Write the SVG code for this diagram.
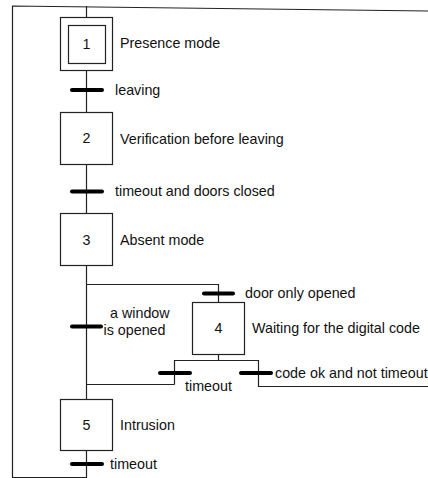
<svg xmlns="http://www.w3.org/2000/svg" width="428" height="478" viewBox="0 0 428 478">
  <style>
    .link { fill: none; stroke: #222; stroke-width: 1.2; }
    .step { fill: #fff; stroke: #222; stroke-width: 1.2; }
    .bar { stroke: #000; stroke-width: 4; stroke-linecap: round; }
    text { font-family: "Liberation Sans", Arial, Helvetica, sans-serif; font-size: 14.3px; fill: #111; }
    .num { text-anchor: middle; }
  </style>
  <rect width="428" height="478" fill="#fff"/>

  <!-- connectors -->
  <g id="connectors">
    <!-- main chain -->
    <line class="link" x1="86.5" y1="6" x2="86.5" y2="17.5"/>
    <line class="link" x1="86.5" y1="70.5" x2="86.5" y2="112.5"/>
    <line class="link" x1="86.5" y1="164.5" x2="86.5" y2="213.5"/>
    <line class="link" x1="86.5" y1="265.5" x2="86.5" y2="399.5"/>
    <!-- divergence to step 4 -->
    <polyline class="link" points="86.5,284.5 218.5,284.5 218.5,302.5"/>
    <!-- step 4 outputs -->
    <polyline class="link" points="218.5,354.5 218.5,360.5"/>
    <polyline class="link" points="174.5,384.5 174.5,360.5 258.5,360.5 258.5,386.5 428,386.5"/>
    <line class="link" x1="174.5" y1="384.5" x2="86.5" y2="384.5"/>
    <!-- loop back from step 5 -->
    <polyline class="link" points="86.5,450.5 86.5,477.5 12.5,477.5 12.5,6 428,11"/>

    <!-- transition bars -->
    <line class="bar" x1="72" y1="90" x2="102" y2="90"/>
    <line class="bar" x1="72" y1="191.5" x2="102" y2="191.5"/>
    <line class="bar" x1="204" y1="293.5" x2="233" y2="293.5"/>
    <line class="bar" x1="72" y1="326.5" x2="101" y2="326.5"/>
    <line class="bar" x1="160" y1="373" x2="190" y2="373"/>
    <line class="bar" x1="241" y1="373" x2="271" y2="373"/>
    <line class="bar" x1="72" y1="464" x2="102" y2="464"/>

    <!-- transition labels -->
    <text x="115" y="95">leaving</text>
    <text x="115" y="196">timeout and doors closed</text>
    <text x="245" y="298">door only opened</text>
    <text x="110" y="318">a window</text>
    <text x="103.5" y="335">is opened</text>
    <text x="185" y="391">timeout</text>
    <text x="275" y="378">code ok and not timeout</text>
    <text x="110" y="469">timeout</text>
  </g>

  <!-- steps -->
  <g id="step1">
    <rect class="step" x="60.5" y="17.5" width="52" height="53"/>
    <rect class="step" x="68.5" y="25.5" width="37" height="38"/>
    <text class="num" x="86.5" y="49">1</text>
    <text x="120" y="48">Presence mode</text>
  </g>
  <g id="step2">
    <rect class="step" x="60.5" y="112.5" width="52" height="52"/>
    <text class="num" x="86.5" y="143">2</text>
    <text x="120" y="144">Verification before leaving</text>
  </g>
  <g id="step3">
    <rect class="step" x="60.5" y="213.5" width="52" height="52"/>
    <text class="num" x="86.5" y="244.5">3</text>
    <text x="120" y="244.5">Absent mode</text>
  </g>
  <g id="step4">
    <rect class="step" x="192.5" y="302.5" width="52" height="52"/>
    <text class="num" x="218.5" y="333">4</text>
    <text x="252" y="333">Waiting for the digital code</text>
  </g>
  <g id="step5">
    <rect class="step" x="60.5" y="399.5" width="52" height="51"/>
    <text class="num" x="86.5" y="430">5</text>
    <text x="120" y="430">Intrusion</text>
  </g>
</svg>
